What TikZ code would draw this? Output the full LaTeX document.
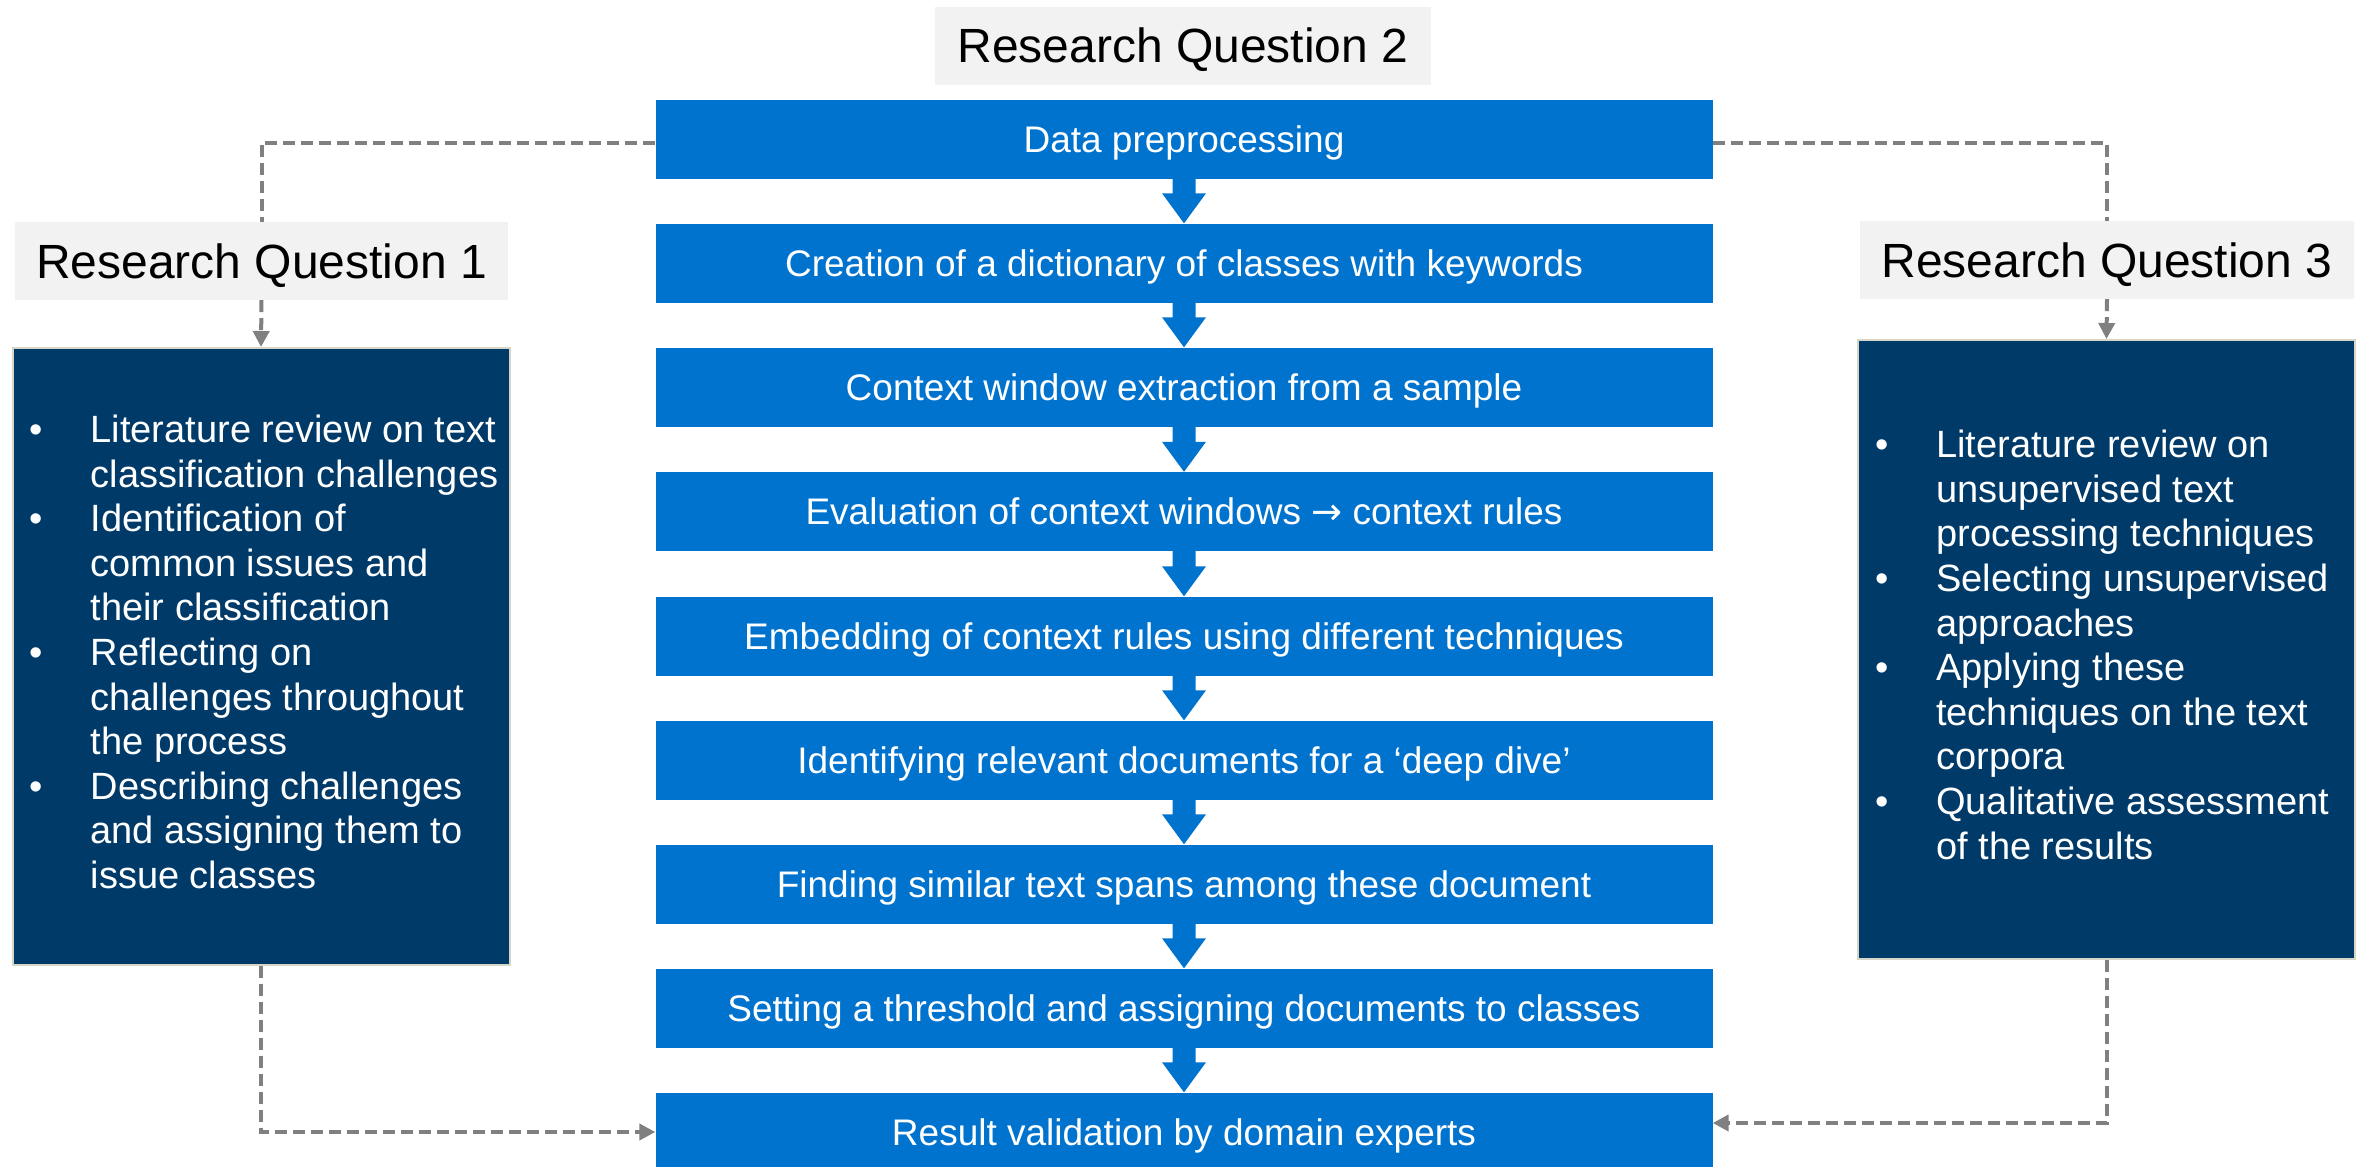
\documentclass[tikz,border=0pt]{standalone}
\usepackage{fontspec}
\setmainfont{Liberation Sans}
\newfontfamily\arrowfont{DejaVu Sans}
\usetikzlibrary{arrows.meta,calc}

\definecolor{stepblue}{HTML}{0073CF}
\definecolor{navy}{HTML}{003A69}
\definecolor{labelgray}{HTML}{F2F2F2}
\definecolor{linkgray}{HTML}{808080}
\definecolor{rimgray}{HTML}{D6D6C8}

% block arrow from the bottom of one step to the top of the next
\newcommand\flowarrow[2]{%
  \fill[stepblue]
    ($(#1.south)+(-11.5,0)$) -- ($(#1.south)+(11.5,0)$)
    -- ($(#2.north)+(11.5,-30)$) -- ($(#2.north)+(22,-30)$)
    -- (#2.north)
    -- ($(#2.north)+(-22,-30)$) -- ($(#2.north)+(-11.5,-30)$) -- cycle;}

\begin{document}
\begin{tikzpicture}[x=1pt,y=-1pt,
  stepbox/.style={fill=stepblue, text=white, minimum width=1057pt,
    minimum height=79pt, inner sep=0pt, text height=26.5pt, text depth=0pt,
    font=\fontsize{37}{44}\selectfont},
  rqlabel/.style={fill=labelgray, text=black, minimum height=78pt,
    inner sep=0pt, text height=34.4pt, text depth=0pt,
    font=\fontsize{48}{56}\selectfont},
  topicbox/.style={fill=navy, draw=rimgray, line width=2pt,
    minimum width=497pt, inner sep=0pt},
  topictext/.style={text=white, anchor=west, inner sep=0pt,
    font=\fontsize{38}{44.6}\selectfont},
  link/.style={draw=linkgray, line width=4pt, dash pattern=on 12pt off 6pt},
  linktip/.style={-{Triangle[length=16pt,width=16pt]}},
]
\fill[white] (0,0) rectangle (2362,1167);
\useasboundingbox (0,0) rectangle (2362,1167);

% central process
\node[rqlabel, minimum width=496pt] (rq2) at (1183,45.5) {Research Question 2};
\node[stepbox] (s1) at (1184,139)   {Data preprocessing};
\node[stepbox] (s2) at (1184,263)   {Creation of a dictionary of classes with keywords};
\node[stepbox] (s3) at (1184,387)   {Context window extraction from a sample};
\node[stepbox] (s4) at (1184,511.5) {Evaluation of context windows {\arrowfont →} context rules};
\node[stepbox] (s5) at (1184,636)   {Embedding of context rules using different techniques};
\node[stepbox] (s6) at (1184,760)   {Identifying relevant documents for a ‘deep dive’};
\node[stepbox] (s7) at (1184,884)   {Finding similar text spans among these document};
\node[stepbox] (s8) at (1184,1008)  {Setting a threshold and assigning documents to classes};
\node[stepbox] (s9) at (1184,1132)  {Result validation by domain experts};

\flowarrow{s1}{s2}
\flowarrow{s2}{s3}
\flowarrow{s3}{s4}
\flowarrow{s4}{s5}
\flowarrow{s5}{s6}
\flowarrow{s6}{s7}
\flowarrow{s7}{s8}
\flowarrow{s8}{s9}

% left column
\node[rqlabel, minimum width=493pt] (rq1) at (261.5,261) {Research Question 1};
\node[topicbox, minimum height=617pt] (lbox) at (261,656.5) {};
\node[topictext] (ltext) at ($(lbox.west)+(18,0)$) {%
  \begin{tabular}{@{}l@{}l@{}}
  \makebox[61pt][l]{\textbullet} & Literature review on text\\
   & classification challenges\\
  \makebox[61pt][l]{\textbullet} & Identification of\\
   & common issues and\\
   & their classification\\
  \makebox[61pt][l]{\textbullet} & Reflecting on\\
   & challenges throughout\\
   & the process\\
  \makebox[61pt][l]{\textbullet} & Describing challenges\\
   & and assigning them to\\
   & issue classes
  \end{tabular}};

% right column
\node[rqlabel, minimum width=494pt] (rq3) at (2107,260) {Research Question 3};
\node[topicbox, minimum height=619pt] (rbox) at (2106.5,649.5) {};
\node[topictext] (rtext) at ($(rbox.west)+(18,0)$) {%
  \begin{tabular}{@{}l@{}l@{}}
  \makebox[61pt][l]{\textbullet} & Literature review on\\
   & unsupervised text\\
   & processing techniques\\
  \makebox[61pt][l]{\textbullet} & Selecting unsupervised\\
   & approaches\\
  \makebox[61pt][l]{\textbullet} & Applying these\\
   & techniques on the text\\
   & corpora\\
  \makebox[61pt][l]{\textbullet} & Qualitative assessment\\
   & of the results
  \end{tabular}};

% dashed links
\draw[link] ([yshift=-4pt]s1.west) -| (rq1.north);
\draw[link, linktip] (rq1.south) -- (lbox.north);
\draw[link, linktip] (lbox.south) |- (s9.west);

\draw[link] ([yshift=-4pt]s1.east) -| (rq3.north);
\draw[link, linktip] (rq3.south) -- (rbox.north);
\draw[link, linktip] (rbox.south) |- ([yshift=9pt]s9.east);
\end{tikzpicture}
\end{document}
